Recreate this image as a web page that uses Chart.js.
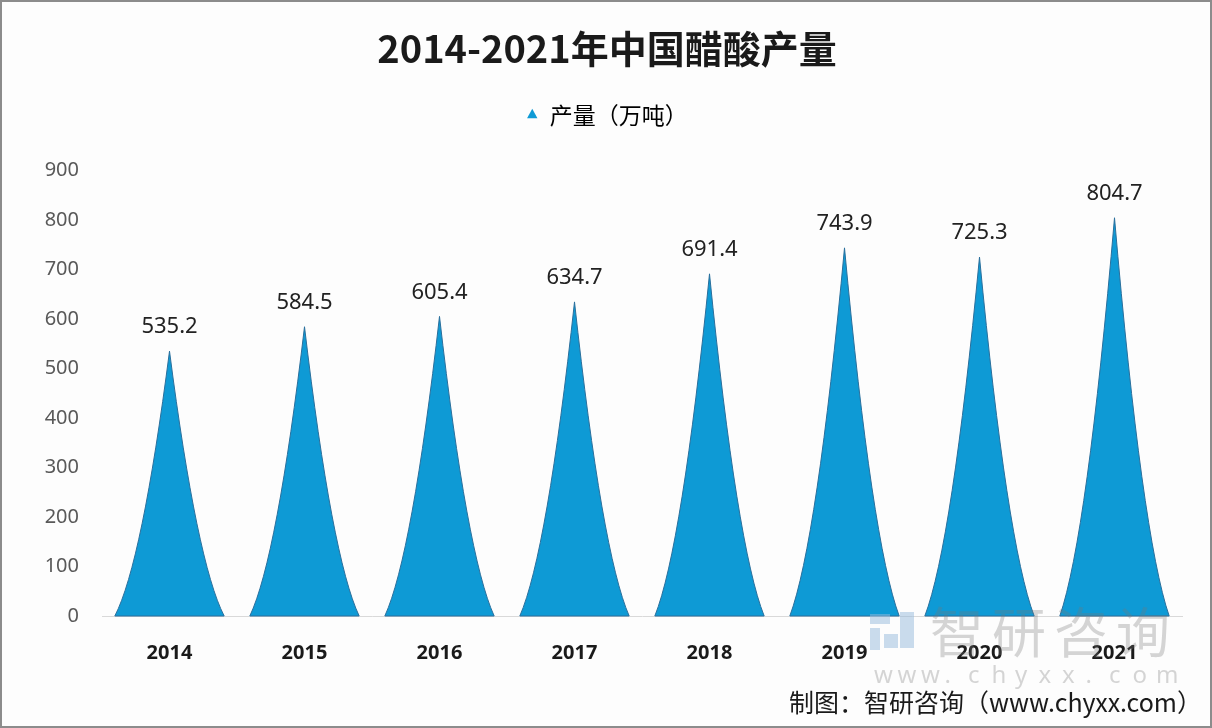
<!DOCTYPE html>
<html>
<head>
<meta charset="utf-8">
<script src="https://cdn.jsdelivr.net/npm/chart.js@4/dist/chart.umd.min.js"></script>
<style>
  html, body { margin: 0; padding: 0; background: #fdfdfd; }
  .wrap { position: relative; width: 1208px; height: 724px; border: 2px solid #8c8c8c; background: #fdfdfd; }
</style>
</head>
<body>
<div class="wrap"><canvas id="chart" width="1208" height="724"></canvas></div>
<script>
const years = ['2014', '2015', '2016', '2017', '2018', '2019', '2020', '2021'];
const output = [535.2, 584.5, 605.4, 634.7, 691.4, 743.9, 725.3, 804.7];
const yTicks = [0, 100, 200, 300, 400, 500, 600, 700, 800, 900];

const CJK = '"Noto Sans CJK SC", "Noto Sans", sans-serif';

// extra room under the legend
const legendGap = {
    id: 'legendGap',
    beforeInit(chart) {
        const fit = chart.legend.fit;
        chart.legend.fit = function () {
            fit.bind(chart.legend)();
            this.height += 34;
        };
    }
};

// cone shaped bars + value labels
const conePlugin = {
    id: 'cones',
    afterDatasetsDraw(chart) {
        const ctx = chart.ctx;
        const meta = chart.getDatasetMeta(0);
        meta.data.forEach((bar, i) => {
            const p = bar.getProps(['x', 'y', 'base', 'width'], true);
            const hw = p.width / 2, h = p.base - p.y;
            ctx.save();
            ctx.beginPath();
            ctx.moveTo(p.x - hw, p.base);
            ctx.quadraticCurveTo(p.x - p.width * 0.25, p.base - h * 0.2, p.x, p.y);
            ctx.quadraticCurveTo(p.x + p.width * 0.25, p.base - h * 0.2, p.x + hw, p.base);
            ctx.closePath();
            ctx.fillStyle = '#0e9ad5';
            ctx.fill();
            ctx.lineWidth = 1;
            ctx.strokeStyle = '#2a6f9c';
            ctx.stroke();

            ctx.fillStyle = '#222';
            ctx.font = '22px "Noto Sans", sans-serif';
            ctx.textAlign = 'center';
            ctx.textBaseline = 'middle';
            ctx.fillText(output[i].toFixed(1), p.x, p.y - 24);
            ctx.restore();
        });
    },
    afterDraw(chart) {
        const ctx = chart.ctx;
        ctx.save();
        // watermark logo
        ctx.fillStyle = 'rgba(150,185,220,0.5)';
        ctx.fillRect(868, 612, 20, 10);
        ctx.fillRect(868, 626, 10, 22);
        ctx.fillRect(882, 632, 14, 14);
        ctx.fillRect(898, 610, 14, 36);
        ctx.fillStyle = 'rgba(120,120,120,0.3)';
        ctx.font = '54px ' + CJK;
        ctx.textBaseline = 'middle';
        ctx.textAlign = 'left';
        const wm = '智研咨询';
        for (let k = 0; k < wm.length; k++) ctx.fillText(wm[k], 928 + k * 62, 630);
        ctx.font = '24px "Noto Sans", sans-serif';
        const site = 'www.chyxx.com';
        for (let k = 0; k < site.length; k++) ctx.fillText(site[k], 872 + k * 23.5, 674);
        // source
        ctx.fillStyle = '#1a1a1a';
        ctx.font = '25px ' + CJK;
        ctx.textAlign = 'right';
        ctx.fillText('制图：智研咨询（www.chyxx.com）', 1200, 700);
        ctx.restore();
    }
};

new Chart(document.getElementById('chart').getContext('2d'), {
    type: 'bar',
    data: {
        labels: years,
        datasets: [{
            label: '产量（万吨）',
            data: output,
            backgroundColor: 'rgba(0,0,0,0)',
            borderWidth: 0,
            categoryPercentage: 1,
            barPercentage: 0.81
        }]
    },
    options: {
        responsive: false,
        animation: false,
        layout: { padding: { left: 30, right: 28, top: 10, bottom: 49 } },
        plugins: {
            title: {
                display: true,
                text: '2014-2021年中国醋酸产量',
                color: '#1a1a1a',
                font: { family: CJK, size: 38, weight: 'bold' },
                padding: { top: 14, bottom: 22 }
            },
            legend: {
                labels: {
                    usePointStyle: true,
                    pointStyleWidth: 12,
                    boxHeight: 9,
                    color: '#333',
                    font: { family: CJK, size: 23 },
                    generateLabels: () => [{
                        text: '产量（万吨）',
                        fillStyle: '#0e9ad5',
                        strokeStyle: '#0e9ad5',
                        pointStyle: 'triangle',
                        lineWidth: 0
                    }]
                }
            },
            tooltip: { enabled: false }
        },
        scales: {
            y: {
                min: 0,
                max: 900,
                afterFit(scale) { scale.width = 70; },
                afterBuildTicks(scale) { scale.ticks = yTicks.map(v => ({ value: v })); },
                grid: { display: false, drawTicks: false },
                border: { display: false },
                ticks: { color: '#595959', padding: 23, font: { family: '"Noto Sans", sans-serif', size: 20 } }
            },
            x: {
                afterFit(scale) { scale.height = 61; },
                grid: { display: false, drawTicks: false },
                border: { display: true, color: '#d9d9d9', width: 1 },
                ticks: { color: '#1a1a1a', padding: 25, font: { family: '"Noto Sans", sans-serif', size: 20, weight: 'bold' } }
            }
        }
    },
    plugins: [legendGap, conePlugin]
});
</script>
</body>
</html>
